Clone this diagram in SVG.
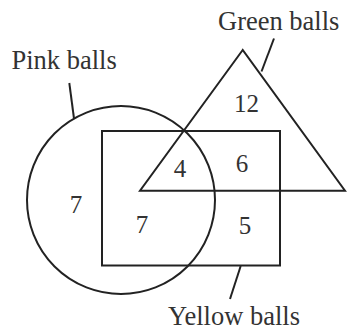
<svg xmlns="http://www.w3.org/2000/svg" width="349" height="335" viewBox="0 0 349 335">
<style>
.s{fill:none;stroke:#222;stroke-width:2}
.t{font-family:"Liberation Serif","Times New Roman",serif;font-size:26.5px;fill:#333}
.n{font-family:"Liberation Serif","Times New Roman",serif;font-size:25px;fill:#333;text-anchor:middle}
</style>
<rect width="349" height="335" fill="#fff"/>
<g id="pink">
<circle class="s" cx="121" cy="200" r="94"/>
<text class="t" x="11.5" y="69">Pink balls</text>
</g>
<g id="yellow">
<rect class="s" x="102" y="131" width="178" height="134.5"/>
<text class="t" x="168" y="325">Yellow balls</text>
</g>
<g id="green">
<polygon class="s" points="242.7,50 140,190.7 345,190.7"/>
<text class="t" x="218" y="30">Green balls</text>
</g>
<g id="numbers">
<text class="n" x="246.5" y="111.5">12</text>
<text class="n" x="180" y="177">4</text>
<text class="n" x="242" y="172">6</text>
<text class="n" x="76" y="213">7</text>
<text class="n" x="142" y="233">7</text>
<text class="n" x="245" y="234">5</text>
</g>
<g id="connectors">
<line class="s" x1="69.3" y1="83" x2="74" y2="118.5"/>
<line class="s" x1="274" y1="38.5" x2="261.5" y2="71.5"/>
<line class="s" x1="240.7" y1="266" x2="230" y2="299"/>
</g>
</svg>
